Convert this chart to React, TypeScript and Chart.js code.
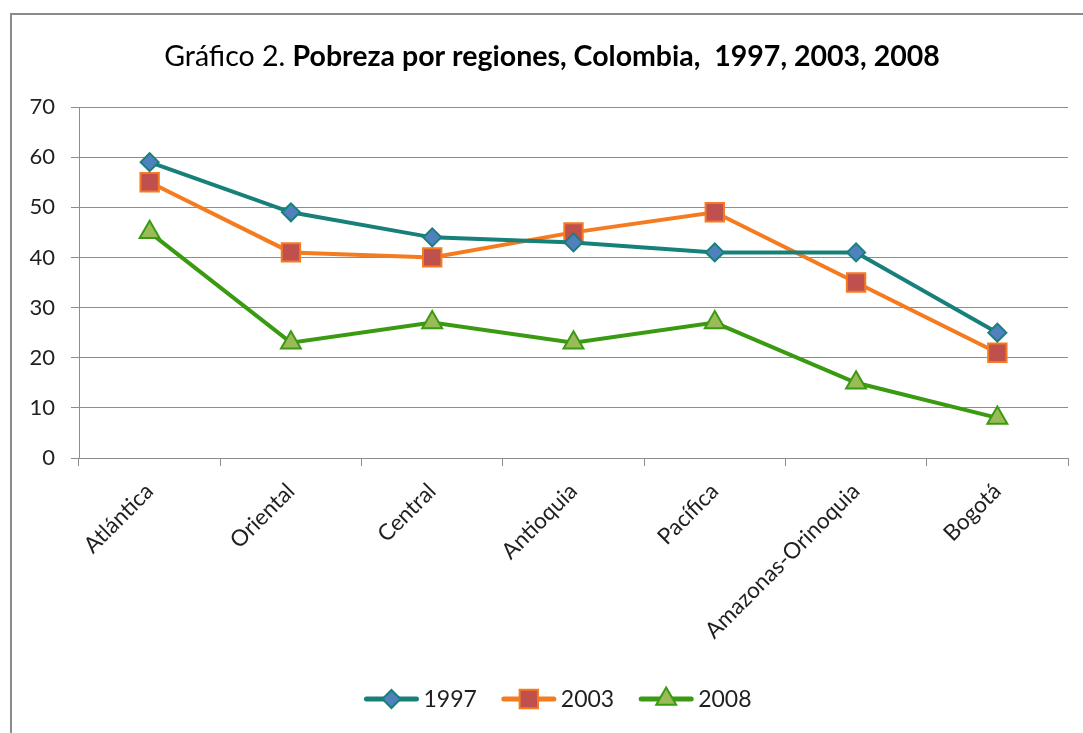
import React, { useEffect, useRef } from 'react';
import { Chart, registerables } from 'chart.js';
import { drawPoint } from 'chart.js/helpers';

Chart.register(...registerables);

const categories = ['Atlántica', 'Oriental', 'Central', 'Antioquia', 'Pacífica', 'Amazonas-Orinoquia', 'Bogotá'];
const seriesLabels = ['1997', '2003', '2008'];
const values1997 = [59, 49, 44, 43, 41, 41, 25];
const values2003 = [55, 41, 40, 45, 49, 35, 21];
const values2008 = [45, 23, 27, 23, 27, 15, 8];
const yMin = 0;
const yMax = 70;
const yStep = 10;
const titleNormal = 'Gráfico 2. ';
const titleBold = 'Pobreza por regiones, Colombia,  1997, 2003, 2008';

const FONT = 'Lato, "Open Sans", sans-serif';
const TEXT = '#1f1f1f';
const GRID = '#8d8d8d';

const W = 1083;
const H = 733;

const titlePlugin = {
  id: 'mixedTitle',
  afterDraw(chart: any) {
    const ctx = chart.ctx as CanvasRenderingContext2D;
    ctx.save();
    const size = 28.5;
    ctx.font = `${size}px ${FONT}`;
    const w1 = ctx.measureText(titleNormal).width;
    ctx.font = `bold ${size}px ${FONT}`;
    const w2 = ctx.measureText(titleBold).width;
    const cx = 552;
    const x = cx - (w1 + w2) / 2;
    const y = 66;
    ctx.textBaseline = 'alphabetic';
    ctx.textAlign = 'left';
    ctx.fillStyle = '#000';
    ctx.font = `${size}px ${FONT}`;
    ctx.fillText(titleNormal, x, y);
    ctx.font = `bold ${size}px ${FONT}`;
    ctx.fillText(titleBold, x + w1, y);
    ctx.restore();
  },
};

const legendPlugin = {
  id: 'excelLegend',
  afterDraw(chart: any) {
    const ctx = chart.ctx as CanvasRenderingContext2D;
    ctx.save();
    ctx.font = `23px ${FONT}`;
    const lineLen = 54;
    const gap = 5;
    const spacing = 25;
    const sets = chart.data.datasets;
    const widths = sets.map((d: any) => lineLen + gap + ctx.measureText(d.label).width);
    const total = widths.reduce((a: number, b: number) => a + b, 0) + spacing * (sets.length - 1);
    let x = 558 - total / 2;
    const y = 699;
    sets.forEach((d: any, i: number) => {
      ctx.strokeStyle = d.borderColor;
      ctx.lineWidth = 5;
      ctx.lineCap = 'round';
      ctx.beginPath();
      ctx.moveTo(x + 2, y);
      ctx.lineTo(x + lineLen - 2, y);
      ctx.stroke();
      ctx.fillStyle = d.pointBackgroundColor;
      ctx.strokeStyle = d.pointBorderColor;
      ctx.lineWidth = d.pointBorderWidth;
      drawPoint(ctx, { pointStyle: d.pointStyle, rotation: 0, radius: d.pointRadius, borderWidth: d.pointBorderWidth } as any, x + lineLen / 2, y);
      ctx.fillStyle = TEXT;
      ctx.textBaseline = 'middle';
      ctx.textAlign = 'left';
      ctx.fillText(d.label, x + lineLen + gap, y + 1);
      x += widths[i] + spacing;
    });
    ctx.restore();
  },
};

export default function App() {
  const ref = useRef<HTMLCanvasElement | null>(null);

  useEffect(() => {
    document.body.style.margin = '0';
    const canvas = ref.current;
    if (!canvas) return;
    const chart = new Chart(canvas, {
      type: 'line',
      data: {
        labels: categories,
        datasets: [
          {
            label: seriesLabels[0],
            data: values1997,
            borderColor: '#17807a',
            backgroundColor: '#17807a',
            borderWidth: 4,
            pointStyle: 'rectRot',
            pointRadius: 9,
            pointBackgroundColor: '#4f81bd',
            pointBorderColor: '#17807a',
            pointBorderWidth: 2,
            tension: 0,
          },
          {
            label: seriesLabels[1],
            data: values2003,
            borderColor: '#f47b20',
            backgroundColor: '#f47b20',
            borderWidth: 4,
            pointStyle: 'rect',
            pointRadius: 13,
            pointBackgroundColor: '#c0504d',
            pointBorderColor: '#f47b20',
            pointBorderWidth: 2,
            tension: 0,
          },
          {
            label: seriesLabels[2],
            data: values2008,
            borderColor: '#3a9b12',
            backgroundColor: '#3a9b12',
            borderWidth: 4,
            pointStyle: 'triangle',
            pointRadius: 11.5,
            pointBackgroundColor: '#9bbb59',
            pointBorderColor: '#3a9b12',
            pointBorderWidth: 2,
            tension: 0,
          },
        ],
      },
      options: {
        responsive: false,
        animation: false,
        devicePixelRatio: 1,
        layout: { padding: { top: 107, right: 14, bottom: 0, left: 0 } },
        plugins: {
          legend: { display: false },
          title: { display: false },
          tooltip: { enabled: false },
        },
        scales: {
          x: {
            offset: true,
            grid: {
              offset: true,
              drawOnChartArea: false,
              drawTicks: true,
              tickLength: 8,
              color: GRID,
              lineWidth: 1,
            },
            border: { display: true, color: GRID, width: 1 },
            ticks: {
              maxRotation: 45,
              minRotation: 45,
              color: TEXT,
              padding: 12,
              font: { family: FONT, size: 22.5 },
            },
            afterFit(scale: any) {
              scale.height = H - 458;
            },
          },
          y: {
            min: yMin,
            max: yMax,
            ticks: {
              stepSize: yStep,
              color: TEXT,
              padding: 16,
              font: { family: FONT, size: 22 },
            },
            grid: {
              color: GRID,
              lineWidth: 1,
              drawTicks: true,
              tickLength: 8,
            },
            border: { display: true, color: GRID, width: 1 },
            afterFit(scale: any) {
              scale.width = 79;
            },
          },
        },
      },
      plugins: [titlePlugin, legendPlugin],
    } as any);
    return () => chart.destroy();
  }, []);

  return (
    <div style={{ position: 'fixed', left: 0, top: 0, width: W, height: H, background: '#fff' }}>
      <canvas ref={ref} width={W} height={H} style={{ position: 'absolute', left: 0, top: 0, width: W, height: H }} />
      <div
        style={{
          position: 'absolute',
          left: 10,
          top: 13,
          width: W - 12,
          height: H - 15,
          borderLeft: '2px solid #8a8a8a',
          borderTop: '2px solid #8a8a8a',
          pointerEvents: 'none',
        }}
      />
    </div>
  );
}
